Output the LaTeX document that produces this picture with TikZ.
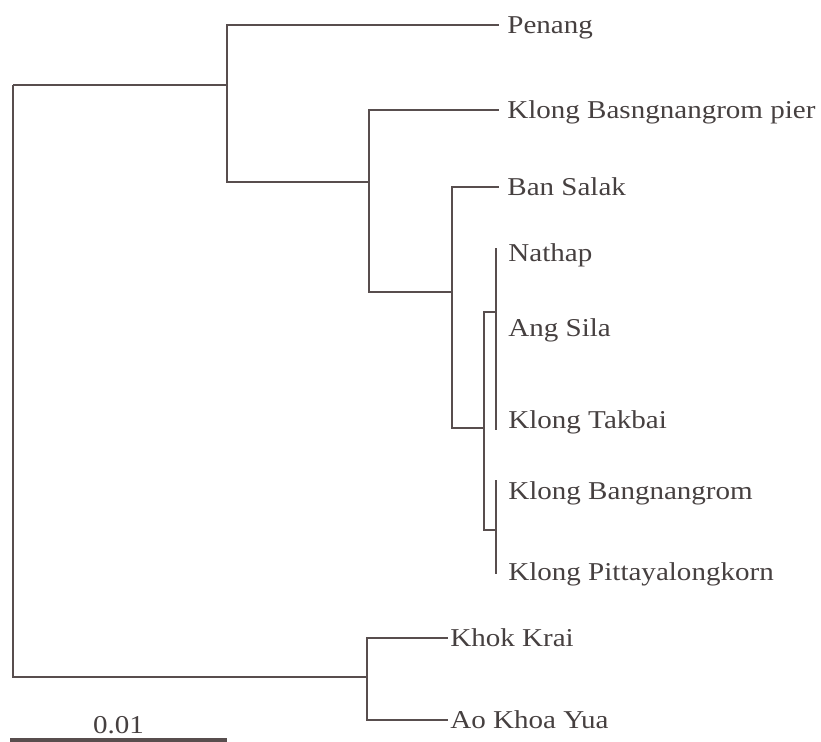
\documentclass[tikz,border=0pt]{standalone}
\usepackage{fontspec}
\setmainfont{Liberation Serif}[FakeStretch=1.13]
\usetikzlibrary{positioning}
\definecolor{treeline}{RGB}{88,78,78}
\definecolor{treetext}{RGB}{70,64,64}

\begin{document}
\begin{tikzpicture}[x=0.5pt,y=-0.5pt,
    branch/.style={draw=treeline, line width=1.3pt},
    taxon/.style={inner sep=0pt, text height=8.5pt, text depth=0pt, text=treetext,
        font=\fontsize{12.85}{15}\selectfont},
    node distance=4pt]
\useasboundingbox (0,0) rectangle (821,742);

% internal nodes
\coordinate (root) at (13,85);
\coordinate (n1) at (227,85);
\coordinate (n2) at (369,182);
\coordinate (n3) at (452,292);
\coordinate (n4) at (484,428);
\coordinate (n5) at (496,312);
\coordinate (n6) at (496,530);
\coordinate (n7) at (367,677);

% tips
\coordinate (penangT) at (499,25);
\coordinate (pierT) at (499,110);
\coordinate (salakT) at (499,187);
\coordinate (nathapT) at (496,248);
\coordinate (silaT) at (496,328);
\coordinate (takbaiT) at (496,430);
\coordinate (bangT) at (496,480);
\coordinate (pittT) at (496,574);
\coordinate (khokT) at (448,638);
\coordinate (aoT) at (448,720);

\node[taxon, right=of penangT] (penang) {Penang};
\node[taxon, right=of pierT] (pier) {Klong Basngnangrom pier};
\node[taxon, right=of salakT] (salak) {Ban Salak};
\node[taxon, right=6pt of nathapT, yshift=-2.5pt] (nathap) {Nathap};
\node[taxon, right=6pt of silaT] (sila) {Ang Sila};
\node[taxon, right=6pt of takbaiT, yshift=5pt] (takbai) {Klong Takbai};
\node[taxon, right=6pt of bangT, yshift=-5.5pt] (bang) {Klong Bangnangrom};
\node[taxon, right=6pt of pittT, yshift=1pt] (pitt) {Klong Pittayalongkorn};
\node[taxon, right=1pt of khokT] (khok) {Khok Krai};
\node[taxon, right=1pt of aoT] (ao) {Ao Khoa Yua};

\draw[branch] (root) |- (n1) (root) |- (n7)
    (n1) |- (penangT) (n1) |- (n2)
    (n2) |- (pierT) (n2) |- (n3)
    (n3) |- (salakT) (n3) |- (n4)
    (n4) |- (n5) (n4) |- (n6)
    (n5) |- (nathapT) (n5) |- (silaT) (n5) |- (takbaiT)
    (n6) |- (bangT) (n6) |- (pittT)
    (n7) |- (khokT) (n7) |- (aoT);

% scale bar
\coordinate (barL) at (10,740);
\coordinate (barR) at (227,740);
\draw[branch, line width=1.6pt] (barL) -- (barR) coordinate[midway] (barM);
\node[taxon, above=3pt of barM] (barlabel) {0.01};
\end{tikzpicture}
\end{document}
